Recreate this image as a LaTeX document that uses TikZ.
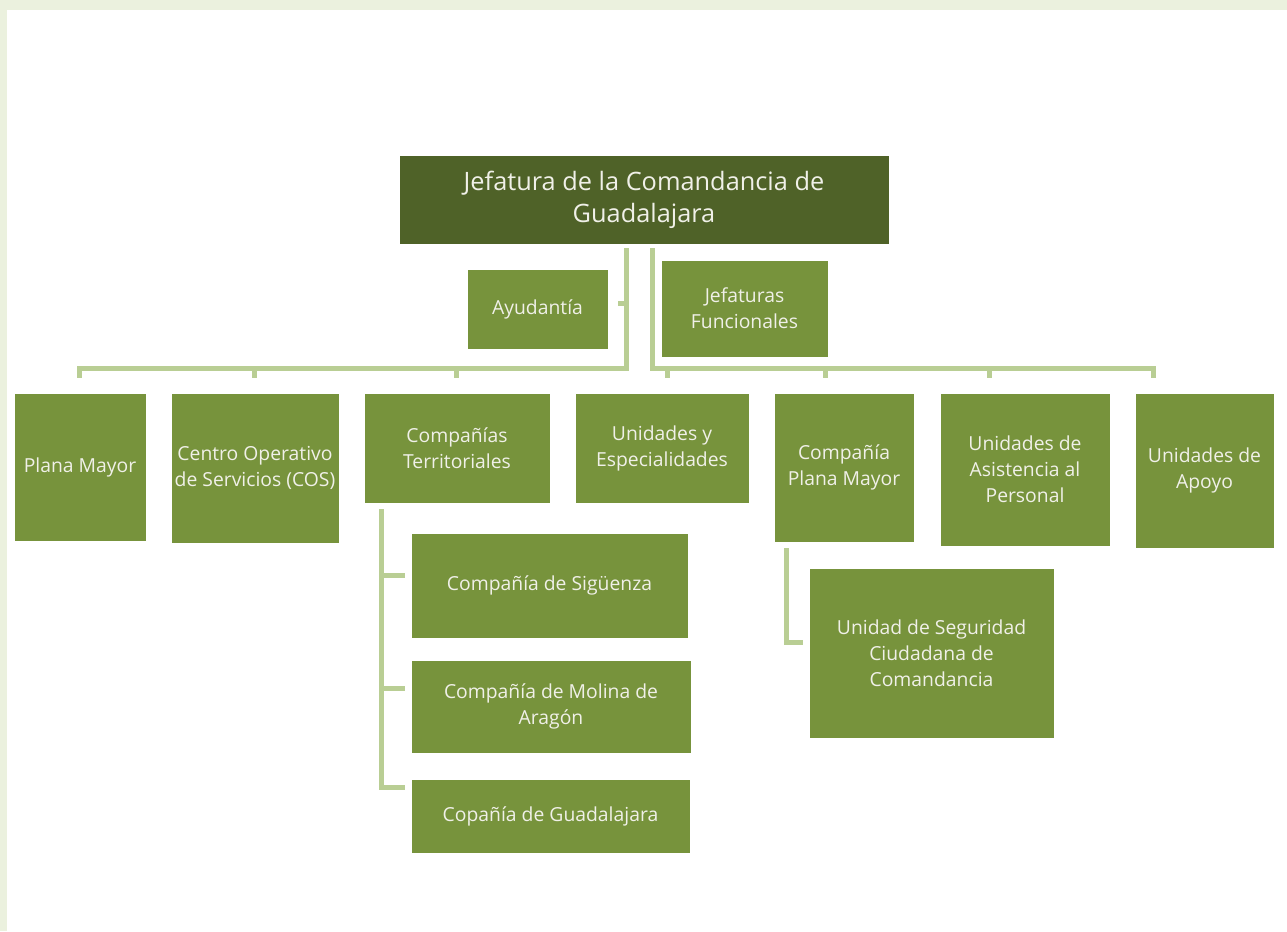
\documentclass[tikz,border=0pt]{standalone}
\usepackage{fontspec}
\setmainfont{Open Sans}
\definecolor{verdeoscuro}{RGB}{79,98,40}
\definecolor{verde}{RGB}{119,147,60}
\definecolor{verdeclaro}{RGB}{185,206,148}
\definecolor{fondo}{RGB}{235,241,222}
\definecolor{blanco}{RGB}{240,240,232}

\tikzset{every picture/.style={line width=0.75pt}}
\tikzset{
  caja/.style 2 args={fill=verde, text=blanco, anchor=north west, inner sep=0.75pt,
    align=center, minimum width=#1*0.75pt, minimum height=#2*0.75pt,
    font=\fontsize{14.5}{19.5}\selectfont},
  enlace/.style={draw=verdeclaro, line width=3.75pt},
}

\begin{document}
\begin{tikzpicture}[x=0.75pt,y=0.75pt,yscale=-1,xscale=1]
\useasboundingbox (0,0) rectangle (1287,931);
%Background
\fill[fondo] (0,0) rectangle (1287,931);
\fill[white] (7,10) rectangle (1287,931);

% Head
\node[caja={489}{88}, fill=verdeoscuro, font=\fontsize{19}{24}\selectfont] (jefe) at (399,155) {Jefatura de la Comandancia de\\Guadalajara};
% Staff
\node[caja={140}{79}] (ayud) at (467,269) {Ayudantía};
\node[caja={166}{96}] (funcion) at (661,260) {Jefaturas\\Funcionales};
% Second row
\node[caja={131}{147}] (plana) at (14,393) {Plana Mayor};
\node[caja={167}{149}] (cos) at (171,393) {Centro Operativo\\de Servicios (COS)};
\node[caja={185}{109}] (territ) at (364,393) {Compañías\\Territoriales};
\node[caja={173}{109}] (unid) at (575,393) {Unidades y\\Especialidades};
\node[caja={139}{148}] (cpm) at (774,393) {Compañía\\Plana Mayor};
\node[caja={169}{152}] (asist) at (940,393) {Unidades de\\Asistencia al\\Personal};
\node[caja={138}{154}] (apoyo) at (1135,393) {Unidades de\\Apoyo};
% Companies
\node[caja={276}{104}] (sig) at (411,533) {Compañía de Sigüenza};
\node[caja={279}{92}] (molina) at (411,660) {Compañía de Molina de\\Aragón};
\node[caja={278}{73}] (guada) at (411,779) {Copañía de Guadalajara};
% Citizen security
\node[caja={244}{169}] (usc) at (809,568) {Unidad de Seguridad\\Ciudadana de\\Comandancia};

% Bus coordinates
\coordinate (ltop) at (626,248);
\coordinate (rtop) at (652,248);
\coordinate (lbus) at (626,368);
\coordinate (rbus) at (652,368);
\coordinate (tplana) at (79,378);
\coordinate (tcos) at (254,378);
\coordinate (tterrit) at (456,378);
\coordinate (tunid) at (667,378);
\coordinate (tcpm) at (825,378);
\coordinate (tasist) at (989,378);
\coordinate (tapoyo) at (1153,378);
\coordinate (tayud) at (618,303);

% Left branch
\draw[enlace] (ltop) -- (lbus) -| (tplana);
\draw[enlace] (lbus -| tcos) -- (tcos);
\draw[enlace] (lbus -| tterrit) -- (tterrit);
\draw[enlace] (tayud) -- (tayud -| lbus);
% Right branch
\draw[enlace] (rtop) -- (rbus) -| (tapoyo);
\draw[enlace] (rbus -| tunid) -- (tunid);
\draw[enlace] (rbus -| tcpm) -- (tcpm);
\draw[enlace] (rbus -| tasist) -- (tasist);

% Territorial companies
\coordinate (vterrit) at (381,509);
\coordinate (esig) at (405,575);
\coordinate (emolina) at (405,688);
\coordinate (eguada) at (405,787);
\draw[enlace] (vterrit) |- (eguada);
\draw[enlace] (esig -| vterrit) -- (esig);
\draw[enlace] (emolina -| vterrit) -- (emolina);

% Plana Mayor company
\coordinate (vcpm) at (786,548);
\coordinate (eusc) at (803,642);
\draw[enlace] (vcpm) |- (eusc);

\end{tikzpicture}
\end{document}
